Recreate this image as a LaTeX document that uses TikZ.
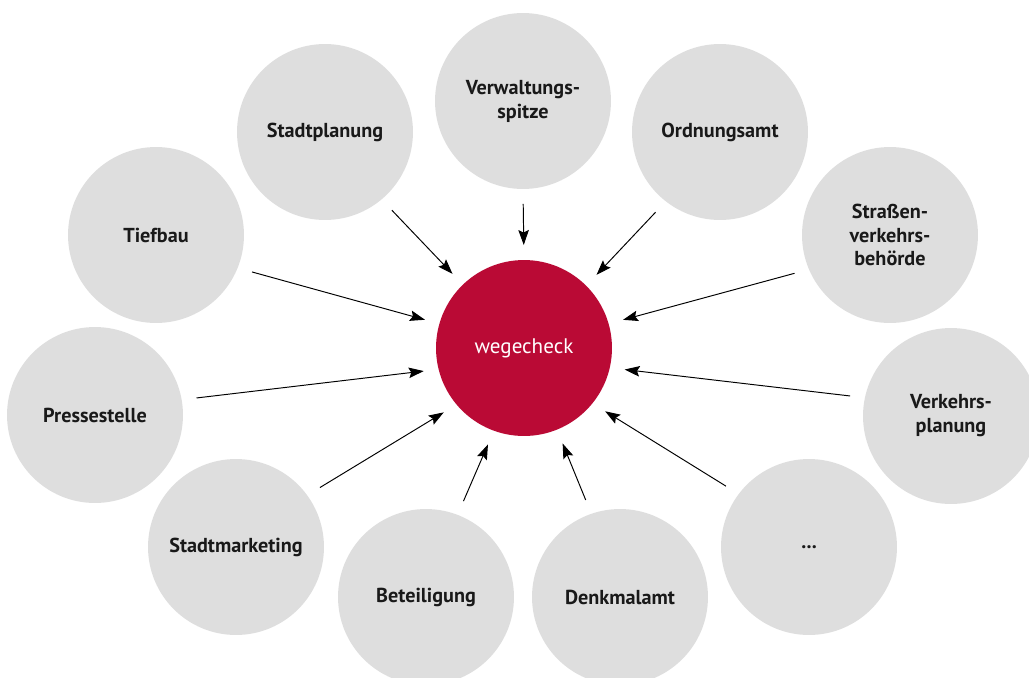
\documentclass[tikz,border=0pt]{standalone}
\usepackage{fontspec}
\setmainfont{PT Sans}
\usetikzlibrary{arrows.meta}
\definecolor{wegred}{HTML}{BA0A35}
\definecolor{amtgray}{HTML}{DEDEDE}

\begin{document}
\begin{tikzpicture}[x=0.02cm,y=-0.02cm,
		amt/.style={circle,fill=amtgray,minimum size=3.52cm,inner sep=0pt,outer sep=0pt,align=center,
			font=\bfseries\fontsize{11.5}{13.6}\selectfont,text=black!90},
		pfeil/.style={-{Stealth[length=0.3cm,width=0.21cm,inset=0.05cm]},line width=0.55pt,
			shorten <=0.3cm,shorten >=0.3cm}]
		\useasboundingbox (0,0) rectangle (1029,677);
		\node[circle,fill=wegred,minimum size=3.52cm,inner sep=0pt,outer sep=0pt,text=white,
			font=\fontsize{12}{14}\selectfont] (wc) at (524,348) {wegecheck};
		\node[amt] (verw) at (523,101) {Verwaltungs-\\spitze};
		\node[amt] (stadt) at (325,132) {Stadtplanung};
		\node[amt] (ordn) at (720,132) {Ordnungsamt};
		\node[amt] (tief) at (156,235) {Tiefbau};
		\node[amt] (strv) at (890,235) {Straßen-\\verkehrs-\\behörde};
		\node[amt] (presse) at (95,415) {Pressestelle};
		\node[amt] (vplan) at (951,416) {Verkehrs-\\planung};
		\node[amt] (mark) at (236,547) {Stadtmarketing};
		\node[amt] (etc) at (809,547) {...};
		\node[amt] (beteil) at (426,597) {Beteiligung};
		\node[amt] (denk) at (620,597) {Denkmalamt};
%		arrows into wegecheck
		\draw[pfeil] (verw.-90) -- (wc.90);
		\draw[pfeil] (stadt.-50) -- (wc.134);
		\draw[pfeil] (ordn.-128) -- (wc.45);
		\draw[pfeil] (tief.-22) -- (wc.164);
		\draw[pfeil] (strv.-157) -- (wc.16);
		\draw[pfeil] (presse.10) -- (wc.-166);
		\draw[pfeil] (vplan.168) -- (wc.-13);
		\draw[pfeil] (mark.36) -- (wc.-140);
		\draw[pfeil] (etc.143) -- (wc.-39);
		\draw[pfeil] (beteil.69) -- (wc.-110);
		\draw[pfeil] (denk.109) -- (wc.-68);
	\end{tikzpicture}
\end{document}
